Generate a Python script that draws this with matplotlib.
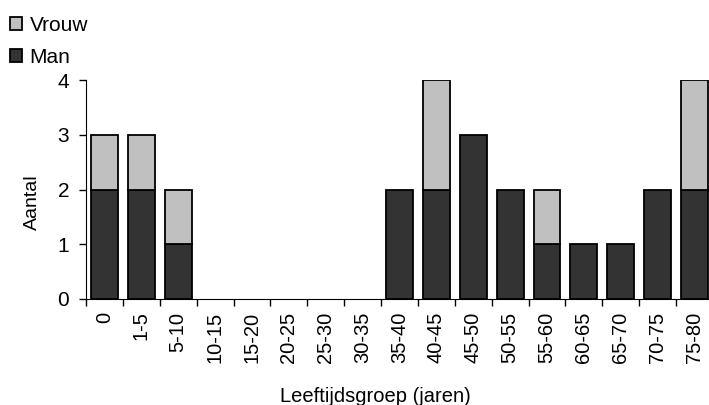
import numpy as np
import matplotlib.pyplot as plt

groepen = ['0', '1-5', '5-10', '10-15', '15-20', '20-25', '25-30', '30-35', '35-40',
           '40-45', '45-50', '50-55', '55-60', '60-65', '65-70', '70-75', '75-80']
man = [2, 2, 1, 0, 0, 0, 0, 0, 2, 2, 3, 2, 1, 1, 1, 2, 2]
vrouw = [1, 1, 1, 0, 0, 0, 0, 0, 0, 2, 0, 0, 1, 0, 0, 0, 2]

plt.rcParams['font.family'] = ['Liberation Sans', 'DejaVu Sans']

fig = plt.figure(figsize=(7.09, 4.05), dpi=100)
W, H = 709, 405
ax = fig.add_axes([86 / W, 1 - 299 / H, (713 - 86) / W, (299 - 80) / H])

x = np.arange(len(groepen))
# geen rand tekenen bij lege groepen
lw_man = [1.3 if v > 0 else 0 for v in man]
lw_vrouw = [1.3 if v > 0 else 0 for v in vrouw]
b1 = ax.bar(x, man, width=0.73, color='#333333', edgecolor='black', linewidth=lw_man, label='Man')
b2 = ax.bar(x, vrouw, width=0.73, bottom=man, color='#c0c0c0', edgecolor='black',
            linewidth=lw_vrouw, label='Vrouw')

ax.set_xlim(-0.5, len(groepen) - 0.5)
ax.set_ylim(0, 4)
ax.set_yticks([0, 1, 2, 3, 4])
ax.set_xticks(x)
ax.set_xticklabels(groepen, rotation=90, fontsize=14.5)
ax.set_xticks(np.arange(len(groepen) + 1) - 0.5, minor=True)
ax.tick_params(axis='x', which='major', length=0, pad=9)
ax.tick_params(axis='x', which='minor', length=5, width=1)
ax.tick_params(axis='y', labelsize=15, length=5, width=1, pad=7)
ax.spines['top'].set_visible(False)
ax.spines['right'].set_visible(False)

ax.set_ylabel('Aantal', fontsize=14)
ax.yaxis.set_label_coords(41 / W, 0.5, transform=fig.transFigure)
ax.set_xlabel('Leeftijdsgroep (jaren)', fontsize=14.5)
ax.xaxis.set_label_coords(375 / W, 1 - 402 / H, transform=fig.transFigure)
ax.xaxis.label.set_va('baseline')

fig.legend(handles=[b2, b1], labels=['Vrouw', 'Man'], loc='upper left',
           bbox_to_anchor=(10 / W, 1 - 16 / H), frameon=False, fontsize=15,
           handlelength=0.58, handleheight=0.58, handletextpad=0.36,
           labelspacing=0.62, borderpad=0, borderaxespad=0)

fig.savefig('out.png', dpi=100)
